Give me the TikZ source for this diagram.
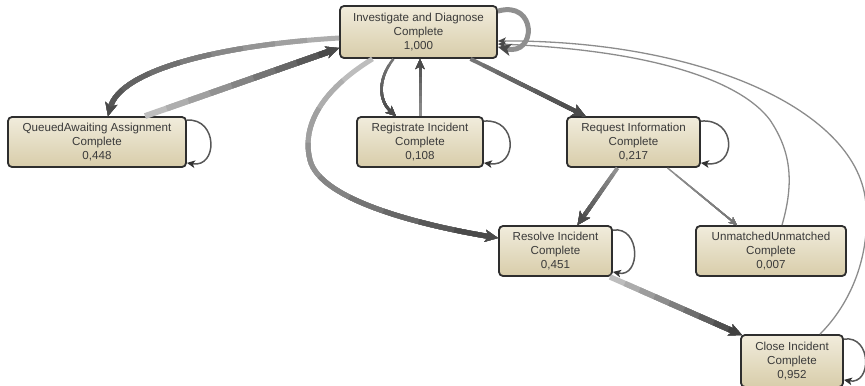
\documentclass[tikz,border=0pt]{standalone}
\usepackage{fontspec}
\setmainfont{Liberation Sans}
\usetikzlibrary{arrows.meta,calc}

\definecolor{boxtop}{HTML}{F1ECDC}
\definecolor{boxbot}{HTML}{D8CDAA}
\definecolor{boxline}{HTML}{2E2E2E}
\definecolor{txt}{HTML}{3A3A3A}
\definecolor{eDark}{gray}{0.29}
\definecolor{eDarker}{gray}{0.25}
\definecolor{eLight}{gray}{0.74}
\definecolor{eLightB}{gray}{0.68}
\definecolor{eMidA}{gray}{0.46}
\definecolor{eMidB}{gray}{0.56}
\definecolor{eThin}{gray}{0.55}
\definecolor{loopc}{gray}{0.34}
\definecolor{looptip}{gray}{0.2}

\tikzset{
  act/.style={rectangle, rounded corners=4bp, draw=boxline, line width=1.8bp,
    top color=boxtop, bottom color=boxbot, minimum height=50bp, inner sep=0pt,
    align=center, text=txt, font=\fontsize{11.6bp}{14bp}\selectfont},
  bigtip/.style={-{Stealth[length=13bp,width=12bp,inset=3.5bp]}},
  midtip/.style={-{Stealth[length=10bp,width=9bp,inset=2.5bp]}},
  smalltip/.style={-{Stealth[length=8bp,width=7bp,inset=2bp]}},
  selfloop/.style={draw=loopc, line width=1.5bp,
    -{Stealth[length=8bp,width=7.5bp,inset=2bp,color=looptip]}},
  thinedge/.style={draw=eThin, line width=1.3bp,
    -{Stealth[length=8bp,width=7bp,inset=2bp,color=eDark]}}
}

% Edge whose colour darkens step by step from source to target:
% #1 width, #2 approx. length (bp), #3 start colour, #4 end colour, #5 tip style, #6 path
\newcommand\gedge[6]{%
  \draw[line width=#1, draw=#3, #5] #6;
  \foreach \k in {1,...,8}{%
    \pgfmathsetmacro\gOff{\k*#2/9}%
    \pgfmathtruncatemacro\gPct{100-\k*100/8}%
    \draw[line width=#1, draw=#3!\gPct!#4,
          dash pattern=on 0bp off \gOff bp on 4000bp off 1bp, #5] #6;
  }%
}

\begin{document}
\begin{tikzpicture}[x=1bp, y=-1bp]
\useasboundingbox (0,0) rectangle (865,385);

% activities
\node[act, minimum width=157bp, minimum height=52bp] (inv) at (418.5,32)
  {Investigate and Diagnose\\Complete\\1,000};
\node[act, minimum width=178bp] (que) at (97,142)
  {QueuedAwaiting Assignment\\Complete\\0,448};
\node[act, minimum width=126bp] (reg) at (420,142)
  {Registrate Incident\\Complete\\0,108};
\node[act, minimum width=133bp] (req) at (633.5,142)
  {Request Information\\Complete\\0,217};
\node[act, minimum width=113bp] (res) at (555.5,251)
  {Resolve Incident\\Complete\\0,451};
\node[act, minimum width=150bp] (unm) at (771,251)
  {UnmatchedUnmatched\\Complete\\0,007};
\node[act, minimum width=102bp, minimum height=52bp] (clo) at (792,361)
  {Close Incident\\Complete\\0,952};

% flows
\gedge{5bp}{290}{eLightB}{eDark}{bigtip}
  {([yshift=-6bp]inv.west) .. controls (220,45) and (120,70) .. ([xshift=11bp]que.north)}
\gedge{6bp}{207}{eLight}{eDark}{bigtip}
  {([xshift=48bp]que.north) -- ([yshift=-16bp]inv.west)}
\gedge{2.6bp}{62}{eMidA}{eDark}{midtip}
  {([xshift=-25bp]inv.south) .. controls (378,78) and (378,100) .. ([xshift=-24bp]reg.north)}
\gedge{3bp}{59}{eMidB}{eDark}{midtip}
  {(reg.north) -- (reg.north |- inv.south)}
\gedge{4bp}{129}{eMidA}{eDark}{bigtip}
  {([xshift=52bp]inv.south) -- ([xshift=-48bp]req.north)}
\gedge{5bp}{330}{eLight}{eDark}{bigtip}
  {([xshift=-46bp]inv.south) .. controls (330,85) and (300,120) .. (310,160)
     .. controls (320,200) and (420,225) .. ([yshift=13bp]res.west)}
\gedge{4bp}{71}{eMidB}{eDark}{bigtip}
  {([xshift=-16bp]req.south) -- ([xshift=22bp]res.north)}
\gedge{1.5bp}{94}{eMidB}{eMidA}{smalltip}
  {([xshift=34bp]req.south) -- ([xshift=-34bp]unm.north)}
\gedge{5.5bp}{146}{eLight}{eDarker}{bigtip}
  {([xshift=-3bp]res.south east) -- ([xshift=2bp,yshift=-1bp]clo.north west)}

% long returns to Investigate and Diagnose
\draw[thinedge] ([xshift=11bp]unm.north) .. controls (795,180) and (790,150) .. (770,120)
  .. controls (740,80) and (650,50) .. ([yshift=-12bp]inv.east);
\draw[thinedge] ([xshift=28bp]clo.north) .. controls (852,302) and (870,255) .. (866,205)
  .. controls (860,110) and (700,40) .. ([yshift=-9bp]inv.east);

% self loops
\draw[line width=5bp, draw=eMidB, -{Stealth[length=13bp,width=12bp,inset=3.5bp,color=eDark]}]
  ([yshift=-6bp]inv.north east) .. controls (537,0) and (537,56) .. ([yshift=12bp]inv.south east);
\draw[selfloop] ([yshift=-4bp]que.north east) .. controls (218,118) and (218,168) .. ([yshift=5bp]que.south east);
\draw[selfloop] ([yshift=-5bp]reg.north east) .. controls (518,118) and (518,168) .. ([yshift=5bp]reg.south east);
\draw[selfloop] ([yshift=-5bp]req.north east) .. controls (737,118) and (737,168) .. ([yshift=5bp]req.south east);
\draw[selfloop] ([yshift=-5bp]res.north east) .. controls (641,226) and (641,278) .. ([yshift=5bp]res.south east);
\draw[selfloop] ([yshift=-5bp]clo.north east) .. controls (872,335) and (872,385) .. ([yshift=8bp]clo.south east);
\end{tikzpicture}
\end{document}
